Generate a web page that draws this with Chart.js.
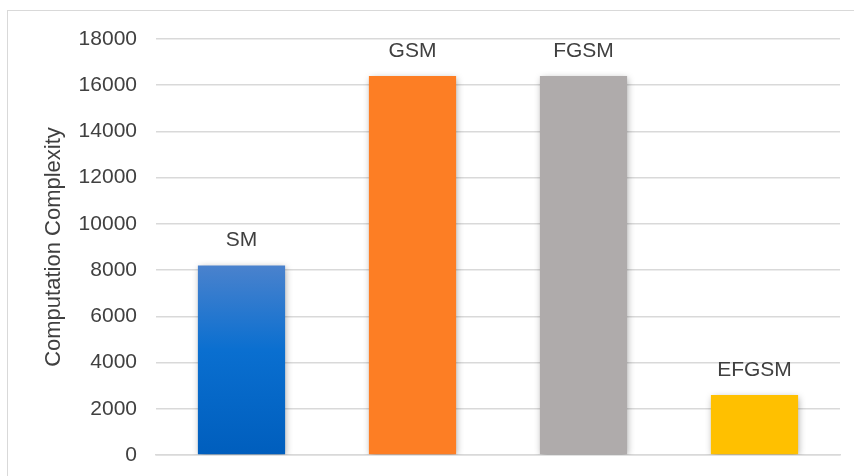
<!DOCTYPE html>
<html>
<head>
<meta charset="utf-8">
<script src="https://cdn.jsdelivr.net/npm/chart.js@4/dist/chart.umd.min.js"></script>
<style>
  html, body { margin: 0; padding: 0; background: #ffffff; }
  #wrap { position: relative; width: 854px; height: 476px; overflow: hidden; }
  #frame { position: absolute; left: 7px; top: 10px; width: 900px; height: 520px;
           border: 1.5px solid #d9d9d9; box-sizing: border-box; }
  #c { position: absolute; left: 0; top: 0; }
</style>
</head>
<body>
<div id="wrap">
  <div id="frame"></div>
  <canvas id="c" width="854" height="476"></canvas>
</div>
<script>
// Methods compared and their computation complexity
const categories = ['SM', 'GSM', 'FGSM', 'EFGSM'];
const complexity = [8200, 16400, 16400, 2600];
const barColors = ['#0070c8', '#fd7e24', '#afabab', '#ffc000'];
const yTicks = [0, 2000, 4000, 6000, 8000, 10000, 12000, 14000, 16000, 18000];

const FONT = "'Liberation Sans', Arial, sans-serif";
const TEXT = '#404040';

// Blue bar fades from a lighter top to a deeper bottom
function fillFor(ctx) {
  const i = ctx.dataIndex;
  if (i !== 0) return barColors[i];
  const chart = ctx.chart;
  const y = chart.scales.y;
  if (!y || !chart.chartArea) return barColors[i];
  const top = y.getPixelForValue(complexity[i]);
  const bottom = y.getPixelForValue(0);
  const g = chart.ctx.createLinearGradient(0, top, 0, bottom);
  g.addColorStop(0, '#4a82cd');
  g.addColorStop(0.45, '#0a6fd0');
  g.addColorStop(1, '#005ebd');
  return g;
}

// Soft drop shadow under the bars
const barShadow = {
  id: 'barShadow',
  beforeDatasetsDraw(chart) {
    const c = chart.ctx;
    c.save();
    c.shadowColor = 'rgba(0,0,0,0.35)';
    c.shadowBlur = 7;
    c.shadowOffsetX = 1;
    c.shadowOffsetY = 2;
  },
  afterDatasetsDraw(chart) {
    chart.ctx.restore();
  }
};

// Method name printed above each bar
const nameLabels = {
  id: 'nameLabels',
  afterDatasetsDraw(chart) {
    const c = chart.ctx;
    const meta = chart.getDatasetMeta(0);
    c.save();
    c.font = '21px ' + FONT;
    c.fillStyle = TEXT;
    c.textAlign = 'center';
    c.textBaseline = 'middle';
    meta.data.forEach((bar, i) => {
      c.fillText(categories[i], bar.x, bar.y - 25);
    });
    c.restore();
  }
};

new Chart(document.getElementById('c'), {
  type: 'bar',
  data: {
    labels: categories,
    datasets: [{
      data: complexity,
      backgroundColor: fillFor,
      borderWidth: 0,
      barPercentage: 0.51,
      categoryPercentage: 1
    }]
  },
  options: {
    responsive: false,
    animation: false,
    devicePixelRatio: 1,
    layout: { padding: { left: 0, right: 14, top: 39, bottom: 21 } },
    plugins: { legend: { display: false }, tooltip: { enabled: false } },
    scales: {
      x: {
        ticks: { display: false },
        grid: { display: false, drawTicks: false },
        border: { display: true, color: '#d9d9d9', width: 1.5 },
        afterFit(scale) { scale.height = 0; }
      },
      y: {
        min: 0,
        max: 18000,
        afterBuildTicks(scale) { scale.ticks = yTicks.map(v => ({ value: v })); },
        afterFit(scale) {
          scale.width = 156;
          scale.paddingTop = 0;
          scale.paddingBottom = 0;
        },
        ticks: {
          color: TEXT,
          font: { family: FONT, size: 21 },
          padding: 19,
          callback: v => String(v)
        },
        grid: { color: '#d9d9d9', lineWidth: 1.5, drawTicks: false },
        border: { display: false },
        title: {
          display: true,
          text: 'Computation Complexity',
          color: TEXT,
          font: { family: FONT, size: 22 },
          padding: { top: 41, bottom: 0 }
        }
      }
    }
  },
  plugins: [barShadow, nameLabels]
});
</script>
</body>
</html>
